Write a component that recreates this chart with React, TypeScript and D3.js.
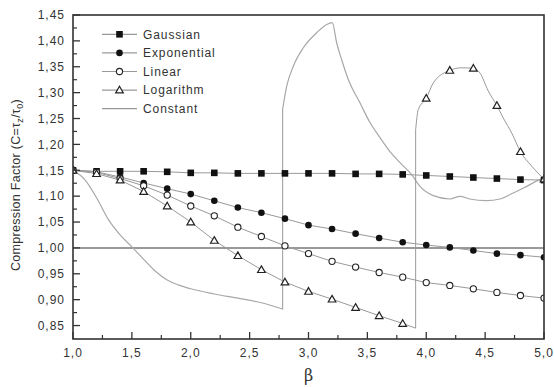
import React from 'react';
import * as d3 from 'd3';

// values
const beta = [1.0, 1.2, 1.4, 1.6, 1.8, 2.0, 2.2, 2.4, 2.6, 2.8, 3.0, 3.2, 3.4, 3.6, 3.8, 4.0, 4.2, 4.4, 4.6, 4.8, 5.0];
const gaussian = [1.15, 1.148, 1.148, 1.148, 1.147, 1.145, 1.145, 1.144, 1.144, 1.144, 1.144, 1.144, 1.143, 1.143, 1.142, 1.140, 1.138, 1.136, 1.134, 1.132, 1.131];
const exponential = [1.15, 1.147, 1.137, 1.1255, 1.1145, 1.104, 1.091, 1.078, 1.068, 1.0565, 1.044, 1.0365, 1.0275, 1.019, 1.011, 1.0055, 1.001, 0.995, 0.989, 0.986, 0.982];
const linear = [1.15, 1.146, 1.134, 1.12, 1.102, 1.081, 1.062, 1.04, 1.022, 1.004, 0.989, 0.974, 0.963, 0.9525, 0.9435, 0.933, 0.9275, 0.921, 0.914, 0.908, 0.903];
const logarithm = [1.15, 1.1435, 1.131, 1.109, 1.081, 1.05, 1.0145, 0.985, 0.958, 0.934, 0.916, 0.901, 0.885, 0.869, 0.854, 1.289, 1.343, 1.347, 1.275, 1.186, 1.133];

// connecting line of the logarithm series (jumps at beta ~ 3.91)
const logLineBeta = [1.0, 1.2, 1.4, 1.6, 1.8, 2.0, 2.2, 2.4, 2.6, 2.8, 3.0, 3.2, 3.4, 3.6, 3.8, 3.91, 3.91, 3.932, 4.0, 4.06, 4.2, 4.3, 4.4, 4.456, 4.527, 4.6, 4.654, 4.726, 4.8, 4.895, 5.0];
const logLineValue = [1.15, 1.1435, 1.131, 1.109, 1.081, 1.05, 1.0145, 0.985, 0.958, 0.934, 0.916, 0.901, 0.885, 0.869, 0.854, 0.845, 1.2285, 1.267, 1.289, 1.319, 1.343, 1.348, 1.347, 1.338, 1.303, 1.275, 1.251, 1.222, 1.186, 1.158, 1.133];

// constant series (line only, jumps at beta ~ 2.78)
const constantBeta = [1.0, 1.1, 1.2, 1.3, 1.4, 1.5, 1.6, 1.7, 1.8, 1.9, 2.0, 2.2, 2.4, 2.6, 2.78, 2.78, 2.815, 2.871, 2.956, 3.07, 3.155, 3.202, 3.239, 3.281, 3.338, 3.437, 3.522, 3.607, 3.692, 3.777, 3.876, 3.947, 4.06, 4.2, 4.287, 4.37, 4.51, 4.626, 4.739, 4.853, 4.966, 5.0];
const constantValue = [1.15, 1.132, 1.097, 1.055, 1.025, 1.002, 0.978, 0.955, 0.938, 0.928, 0.921, 0.911, 0.903, 0.894, 0.882, 1.2673, 1.3124, 1.3511, 1.3867, 1.4158, 1.4318, 1.4351, 1.3964, 1.3641, 1.3254, 1.2803, 1.2422, 1.2131, 1.186, 1.1647, 1.1416, 1.1189, 1.101, 1.0945, 1.0996, 1.0945, 1.0913, 1.0945, 1.1062, 1.1189, 1.1318, 1.1338];

const xTicks = [1.0, 1.5, 2.0, 2.5, 3.0, 3.5, 4.0, 4.5, 5.0];
const xMinor = [1.25, 1.75, 2.25, 2.75, 3.25, 3.75, 4.25, 4.75];
const yTicks = [0.85, 0.9, 0.95, 1.0, 1.05, 1.1, 1.15, 1.2, 1.25, 1.3, 1.35, 1.4, 1.45];
const yMinor = [0.875, 0.925, 0.975, 1.025, 1.075, 1.125, 1.175, 1.225, 1.275, 1.325, 1.375, 1.425];
const legendLabels = ['Gaussian', 'Exponential', 'Linear', 'Logarithm', 'Constant'];

const W = 554, H = 387;
const left = 73, right = 544, top = 15, bottom = 339;
const font = 'Arial, "Liberation Sans", sans-serif';
const fmt = (v: number, d: number) => v.toFixed(d).replace('.', ',');

type Kind = 'square' | 'dot' | 'ring' | 'triangle' | 'none';
type Pt = [number, number];

const Marker = ({ kind, x, y }: { kind: Kind; x: number; y: number }) => {
  if (kind === 'square') return <rect x={x - 3.3} y={y - 3.3} width={6.6} height={6.6} fill="#111" />;
  if (kind === 'dot') return <circle cx={x} cy={y} r={3.3} fill="#111" />;
  if (kind === 'ring') return <circle cx={x} cy={y} r={3.1} fill="#fff" stroke="#222" strokeWidth={1.1} />;
  if (kind === 'triangle') {
    const s = 3.8;
    return <path d={`M${x},${y - s}L${x + s},${y + s * 0.75}L${x - s},${y + s * 0.75}Z`} fill="#fff" stroke="#222" strokeWidth={1.2} />;
  }
  return null;
};

// split a polyline into runs at vertical jumps (equal beta), joined by straight segments
function runs(pts: Pt[]): Pt[][] {
  const out: Pt[][] = [[pts[0]]];
  for (let i = 1; i < pts.length; i++) {
    if (pts[i][0] === pts[i - 1][0]) out.push([pts[i]]);
    else out[out.length - 1].push(pts[i]);
  }
  return out;
}

export default function App() {
  const x = d3.scaleLinear().domain([1, 5]).range([left, right]);
  const y = d3.scaleLinear().domain([0.824, 1.45]).range([bottom, top]);

  const straight = d3.line<Pt>().x(d => x(d[0])).y(d => y(d[1]));
  const smooth = d3.line<Pt>().x(d => x(d[0])).y(d => y(d[1])).curve(d3.curveMonotoneX);

  const joined = (pts: Pt[], curves: ('s' | 'l')[]) =>
    runs(pts)
      .map((r, i) => {
        const d = (curves[i] === 's' ? smooth(r) : straight(r)) || '';
        return i === 0 ? d : 'L' + d.slice(1);
      })
      .join('');

  const series: { vals: number[]; kind: Kind }[] = [
    { vals: gaussian, kind: 'square' },
    { vals: exponential, kind: 'dot' },
    { vals: linear, kind: 'ring' },
    { vals: logarithm, kind: 'triangle' },
  ];
  const legendKinds: Kind[] = ['square', 'dot', 'ring', 'triangle', 'none'];

  const logPts = logLineBeta.map((b, i) => [b, logLineValue[i]] as Pt);
  const constPts = constantBeta.map((b, i) => [b, constantValue[i]] as Pt);

  return (
    <svg width={W} height={H} style={{ position: 'absolute', left: 0, top: 0, background: '#fff' }} fontFamily={font}>
      <defs>
        <clipPath id="plot">
          <rect x={left} y={top} width={right - left} height={bottom - top} />
        </clipPath>
      </defs>

      <g clipPath="url(#plot)">
        {/* reference line at 1.00 */}
        <line x1={left} x2={right} y1={y(1)} y2={y(1)} stroke="#777" strokeWidth={1.5} />
        <path d={joined(constPts, ['s', 's'])} fill="none" stroke="#a8a8a8" strokeWidth={1.2} />
        {series.slice(0, 3).map((s, k) => (
          <path key={k} d={straight(beta.map((b, i) => [b, s.vals[i]] as Pt)) || ''} fill="none" stroke="#999" strokeWidth={1} />
        ))}
        <path d={joined(logPts, ['l', 's'])} fill="none" stroke="#999" strokeWidth={1} />
        {series.map((s, k) => (
          <g key={k}>
            {beta.map((b, i) => <Marker key={i} kind={s.kind} x={x(b)} y={y(s.vals[i])} />)}
          </g>
        ))}
      </g>

      {/* frame */}
      <rect x={left} y={top} width={right - left} height={bottom - top} fill="none" stroke="#333" strokeWidth={1.6} />

      {/* x axis ticks */}
      {xTicks.map(t => (
        <g key={t}>
          <line x1={x(t)} x2={x(t)} y1={bottom} y2={bottom - 7} stroke="#333" strokeWidth={1.3} />
          <text x={x(t)} y={357} textAnchor="middle" fontSize={12} fill="#333" letterSpacing={1}>{fmt(t, 1)}</text>
        </g>
      ))}
      {xMinor.map(t => <line key={t} x1={x(t)} x2={x(t)} y1={bottom} y2={bottom - 4} stroke="#333" strokeWidth={1.2} />)}

      {/* y axis ticks */}
      {yTicks.map(t => (
        <g key={t}>
          <line x1={left} x2={left + 7} y1={y(t)} y2={y(t)} stroke="#333" strokeWidth={1.3} />
          <text x={65} y={y(t) + 4.3} textAnchor="end" fontSize={12} fill="#333" letterSpacing={1}>{fmt(t, 2)}</text>
        </g>
      ))}
      {yMinor.map(t => <line key={t} x1={left} x2={left + 4} y1={y(t)} y2={y(t)} stroke="#333" strokeWidth={1.2} />)}

      {/* axis titles */}
      <text x={(left + right) / 2} y={381} textAnchor="middle" fontSize={16} fill="#333" fontFamily='"DejaVu Serif", "Liberation Serif", serif'>β</text>
      <text transform={`translate(20,${185}) rotate(-90)`} textAnchor="middle" fontSize={12.5} fill="#333" letterSpacing={0.3}>
        Compression Factor (C=τ<tspan fontSize={9} dy={3}>z</tspan><tspan dy={-3}>/τ</tspan><tspan fontSize={9} dy={3}>0</tspan><tspan dy={-3}>)</tspan>
      </text>

      {/* legend */}
      {legendLabels.map((name, i) => {
        const ly = 34.3 + i * 18.6;
        return (
          <g key={name}>
            <line x1={102} x2={137} y1={ly} y2={ly} stroke="#999" strokeWidth={1.2} />
            <Marker kind={legendKinds[i]} x={119.5} y={ly} />
            <text x={143} y={ly + 4.3} fontSize={12} fill="#333" letterSpacing={0.9}>{name}</text>
          </g>
        );
      })}
    </svg>
  );
}
